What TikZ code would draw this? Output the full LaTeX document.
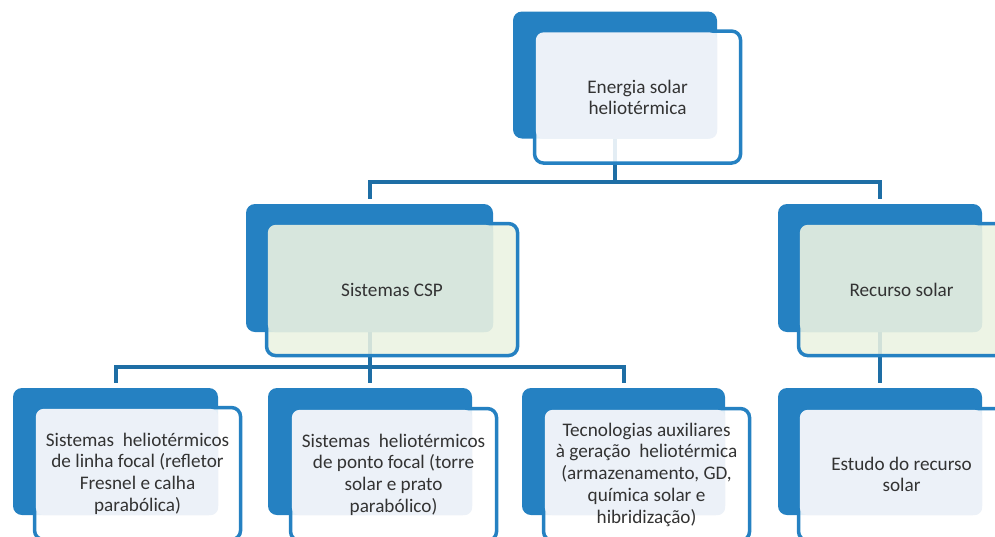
\documentclass[tikz,border=0pt]{standalone}
\usepackage{fontspec}
\setmainfont{Carlito}
\usepackage{xcolor}
\usepackage{tikz}
\usetikzlibrary{
    positioning,
    backgrounds
}

\definecolor{boxblue}{HTML}{2581C2}
\definecolor{linkblue}{HTML}{1E6EA5}
\definecolor{paleblue}{HTML}{ECF1F8}
\definecolor{palegreen}{HTML}{EAF2E1}
\definecolor{tintgreen}{HTML}{D7E6DD}
\definecolor{textgray}{HTML}{333333}

\begin{document}
\begin{tikzpicture}[
    x=1pt, y=-1pt,
    back/.style={
        rectangle,
        rounded corners=9pt,
        fill=boxblue,
        inner sep=0pt,
        minimum width=204pt,
        minimum height=127pt
    },
    frame/.style={
        rectangle,
        rounded corners=9pt,
        draw=boxblue,
        line width=3.5pt,
        fill=white,
        fill opacity=0.88,
        inner sep=0pt,
        anchor=north west,
        minimum width=206pt,
        minimum height=132pt
    },
    greenframe/.style={frame, fill=palegreen},
    tint/.style={fill=paleblue, rounded corners=8pt},
    greentint/.style={fill=tintgreen, rounded corners=8pt},
    label/.style={align=center, text=textgray, font=\fontsize{19.2}{21.2}\selectfont},
    small/.style={align=center, text=textgray, font=\fontsize{19.2}{21.7}\selectfont},
    link/.style={draw=linkblue, line width=4pt}
]
\path[use as bounding box, clip] (0,0) rectangle (995,536);

% top level
\node[back] (topback) at (615,75) {};
\node[frame] (topframe) at ([shift={(20,18)}]topback.north west) {};
\fill[tint] ([shift={(3,3)}]topframe.north west) rectangle (topback.south east);
\node[label] (top) at (topframe.center) {Energia solar\\heliotérmica};

% second level
\node[back, minimum width=247pt, minimum height=128pt] (cspback) at (369.5,268) {};
\node[greenframe, minimum width=251pt] (cspframe) at ([shift={(19,18)}]cspback.north west) {};
\fill[greentint] ([shift={(3,3)}]cspframe.north west) rectangle (cspback.south east);
\node[label] (csp) at (cspframe.center) {Sistemas CSP};

\node[back, minimum height=128pt] (solback) at (880,268) {};
\node[greenframe] (solframe) at ([shift={(19,18)}]solback.north west) {};
\fill[greentint] ([shift={(3,3)}]solframe.north west) rectangle (solback.south east);
\node[label] (sol) at (solframe.center) {Recurso solar};

% third level
\node[back, minimum width=205pt] (lineback) at (115.5,451.5) {};
\node[frame] (lineframe) at ([shift={(20,18)}]lineback.north west) {};
\fill[tint] ([shift={(3,3)}]lineframe.north west) rectangle (lineback.south east);
\node[small] (line) at (lineframe.center) {Sistemas~ heliotérmicos\\de linha focal (refletor\\Fresnel e calha\\parabólica)};

\node[back] (pointback) at (370,451.5) {};
\node[frame] (pointframe) at ([shift={(21,19)}]pointback.north west) {};
\fill[tint] ([shift={(3,3)}]pointframe.north west) rectangle (pointback.south east);
\node[small] (point) at (pointframe.center) {Sistemas~ heliotérmicos\\de ponto focal (torre\\solar e prato\\parabólico)};

\node[back, minimum width=203pt] (auxback) at (623.5,451.5) {};
\node[frame] (auxframe) at ([shift={(20,19)}]auxback.north west) {};
\fill[tint] ([shift={(3,3)}]auxframe.north west) rectangle (auxback.south east);
\node[small] (aux) at (auxframe.center) {Tecnologias auxiliares\\à geração~ heliotérmica\\(armazenamento, GD,\\química solar e\\hibridização)};

\node[back] (studyback) at (880,451.5) {};
\node[frame] (studyframe) at ([shift={(19,19)}]studyback.north west) {};
\fill[tint] ([shift={(3,3)}]studyframe.north west) rectangle (studyback.south east);
\node[label] (study) at (studyframe.center) {Estudo do recurso\\solar};

% connectors
\coordinate (busa) at (0,182);
\coordinate (busb) at (0,367);
\begin{pgfonlayer}{background}
\draw[link] (topback.south) -- (topback.south |- busa);
\draw[link] ([yshift=5pt]cspback.north) |- (busa -| solback.north) -- ([yshift=5pt]solback.north);
\draw[link] (cspback.south) -- (cspback.south |- busb);
\draw[link] ([yshift=5pt]lineback.north) |- (busb -| auxback.north) -- ([yshift=5pt]auxback.north);
\draw[link] (pointback.north |- busb) -- ([yshift=5pt]pointback.north);
\draw[link] (solback.south) -- ([yshift=5pt]studyback.north);
\end{pgfonlayer}

\end{tikzpicture}
\end{document}
